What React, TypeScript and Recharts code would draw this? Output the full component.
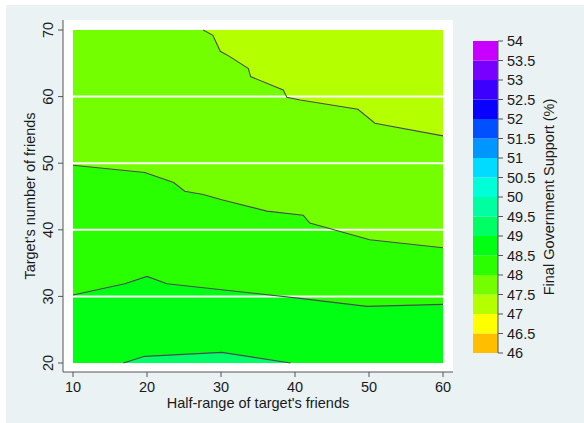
import React from "react";
import {
  Area,
  CartesianGrid,
  ComposedChart,
  Label,
  Line,
  ReferenceLine,
  XAxis,
  YAxis,
} from "recharts";

const xTicks = [10, 20, 30, 40, 50, 60];
const yTicks = [20, 30, 40, 50, 60, 70];
const gridLevels = [30, 40, 50, 60];

// colour scale of the contour plot (46 to 54 in steps of 0.5)
const legendBreaks = [
  46, 46.5, 47, 47.5, 48, 48.5, 49, 49.5, 50, 50.5, 51, 51.5, 52, 52.5, 53, 53.5, 54,
];
const legendColors = [
  "#ffbe00", "#ffff00", "#b4ff00", "#73ff00", "#2aff00", "#00ff12", "#00ff64", "#00ffa0",
  "#00ffd8", "#00dcff", "#0096ff", "#0050ff", "#0a00ff", "#3c00ff", "#7800ff", "#c800ff",
];

// contour lines (x = half-range, y = number of friends)
const level475 = [
  { x: 27.6, y: 70 }, { x: 28.9, y: 69.2 }, { x: 29.9, y: 66.8 }, { x: 31.2, y: 66 },
  { x: 33.7, y: 64.2 }, { x: 34, y: 63 }, { x: 38.4, y: 61 }, { x: 38.9, y: 59.9 },
  { x: 40.7, y: 59.5 }, { x: 48.5, y: 58.1 }, { x: 50.8, y: 56 }, { x: 60, y: 54.1 },
];
const level48 = [
  { x: 10, y: 49.7 }, { x: 19.7, y: 48.6 }, { x: 23.6, y: 47.1 }, { x: 25.1, y: 45.8 },
  { x: 27.6, y: 45.3 }, { x: 30.1, y: 44.5 }, { x: 36.2, y: 42.8 }, { x: 41.1, y: 42.2 },
  { x: 42, y: 41 }, { x: 50.1, y: 38.5 }, { x: 60, y: 37.3 },
];
const level485 = [
  { x: 10, y: 30.2 }, { x: 17, y: 31.9 }, { x: 20, y: 33 }, { x: 22.7, y: 31.9 },
  { x: 30.1, y: 31 }, { x: 40.7, y: 29.7 }, { x: 49.7, y: 28.5 }, { x: 60, y: 28.8 },
];
const level49 = [
  { x: 16.8, y: 20 }, { x: 19.7, y: 21 }, { x: 30.1, y: 21.6 }, { x: 39.4, y: 20 },
];

// top edge of the 47-47.5 band is the top of the grid
const topEdge = [{ x: 10, y: 70 }, { x: 60, y: 70 }];
const band475 = [{ x: 10, y: 70 }, ...level475];

const fontFamily = "'Liberation Sans', Arial, sans-serif";
const ink = "#1a1a1a";
const axisGray = "#555";
const contourStroke = "#4a4a55";

function RotatedTick({ x, y, payload }: any) {
  return (
    <text
      x={x}
      y={y}
      transform={`rotate(-90 ${x} ${y})`}
      textAnchor="middle"
      fontSize={14.5}
      fill={ink}
    >
      {payload.value}
    </text>
  );
}

function VerticalTitle({ viewBox, value, left }: any) {
  const cx = viewBox.x + left;
  const cy = viewBox.y + viewBox.height / 2;
  return (
    <text
      x={cx}
      y={cy}
      transform={`rotate(-90 ${cx} ${cy})`}
      textAnchor="middle"
      dominantBaseline="central"
      fontSize={14.5}
      fill={ink}
    >
      {value}
    </text>
  );
}

function BottomTitle({ viewBox, value }: any) {
  return (
    <text
      x={viewBox.x + viewBox.width / 2}
      y={viewBox.y + 36}
      textAnchor="middle"
      fontSize={14.5}
      fill={ink}
    >
      {value}
    </text>
  );
}

function ContourChart() {
  return (
    <ComposedChart width={470} height={423} margin={{ top: 20, right: 17, bottom: 0, left: 0 }}>
      <CartesianGrid fill="#ffffff" horizontal={false} vertical={false} />
      <XAxis
        type="number"
        dataKey="x"
        domain={[10, 60]}
        ticks={xTicks}
        padding={{ left: 10, right: 10 }}
        height={51}
        tickSize={5}
        tickMargin={5}
        axisLine={{ stroke: axisGray }}
        tickLine={{ stroke: axisGray }}
        tick={{ fontSize: 14.5, fill: ink }}
      >
        <Label content={<BottomTitle value="Half-range of target's friends" />} />
      </XAxis>
      <YAxis
        type="number"
        dataKey="y"
        domain={[20, 70]}
        ticks={yTicks}
        padding={{ top: 10, bottom: 9 }}
        width={63}
        tickSize={5}
        tickMargin={5}
        axisLine={{ stroke: axisGray }}
        tickLine={{ stroke: axisGray }}
        tick={<RotatedTick />}
      >
        <Label content={<VerticalTitle value="Target's number of friends" left={30} />} />
      </YAxis>
      <Area data={topEdge} dataKey="y" type="linear" baseValue={20} fill={legendColors[2]} fillOpacity={1} stroke="none" isAnimationActive={false} />
      <Area data={band475} dataKey="y" type="linear" baseValue={20} fill={legendColors[3]} fillOpacity={1} stroke="none" isAnimationActive={false} />
      <Area data={level48} dataKey="y" type="linear" baseValue={20} fill={legendColors[4]} fillOpacity={1} stroke="none" isAnimationActive={false} />
      <Area data={level485} dataKey="y" type="linear" baseValue={20} fill={legendColors[5]} fillOpacity={1} stroke="none" isAnimationActive={false} />
      <Area data={level49} dataKey="y" type="linear" baseValue={20} fill={legendColors[6]} fillOpacity={1} stroke="none" isAnimationActive={false} />
      {gridLevels.map((g) => (
        <ReferenceLine key={g} y={g} stroke="#ffffff" strokeWidth={2} />
      ))}
      {[level475, level48, level485, level49].map((pts, i) => (
        <Line
          key={i}
          data={pts}
          dataKey="y"
          type="linear"
          stroke={contourStroke}
          strokeWidth={1.1}
          dot={false}
          activeDot={false}
          isAnimationActive={false}
        />
      ))}
    </ComposedChart>
  );
}

function ColorBar() {
  return (
    <ComposedChart width={100} height={332} margin={{ top: 10, right: 0, bottom: 10, left: 0 }}>
      <XAxis type="number" dataKey="x" domain={[0, 1]} allowDataOverflow hide />
      <YAxis
        type="number"
        dataKey="y"
        orientation="right"
        domain={[46, 54]}
        allowDataOverflow
        ticks={legendBreaks}
        interval={0}
        width={75}
        tickSize={5}
        tickMargin={4}
        axisLine={{ stroke: axisGray }}
        tickLine={{ stroke: axisGray }}
        tick={{ fontSize: 14.5, fill: ink }}
      >
        <Label content={<VerticalTitle value="Final Government Support (%)" left={51} />} />
      </YAxis>
      {legendColors.map((c, i) => (
        <Area
          key={c}
          data={[
            { x: 0, y: legendBreaks[i + 1] },
            { x: 1, y: legendBreaks[i + 1] },
          ]}
          dataKey="y"
          type="linear"
          baseValue={legendBreaks[i]}
          fill={c}
          fillOpacity={1}
          stroke="none"
          activeDot={false}
          isAnimationActive={false}
        />
      ))}
    </ComposedChart>
  );
}

export default function App() {
  return (
    <div
      style={{
        position: "absolute",
        left: 0,
        top: 0,
        width: 584,
        height: 423,
        background: "#ffffff",
        overflow: "hidden",
        fontFamily,
      }}
    >
      <div style={{ position: "absolute", left: 6, top: 5, width: 578, height: 418, background: "#eaf2f3" }} />
      <div style={{ position: "absolute", left: 0, top: 0 }}>
        <ContourChart />
      </div>
      <div style={{ position: "absolute", left: 473, top: 31 }}>
        <ColorBar />
      </div>
    </div>
  );
}
